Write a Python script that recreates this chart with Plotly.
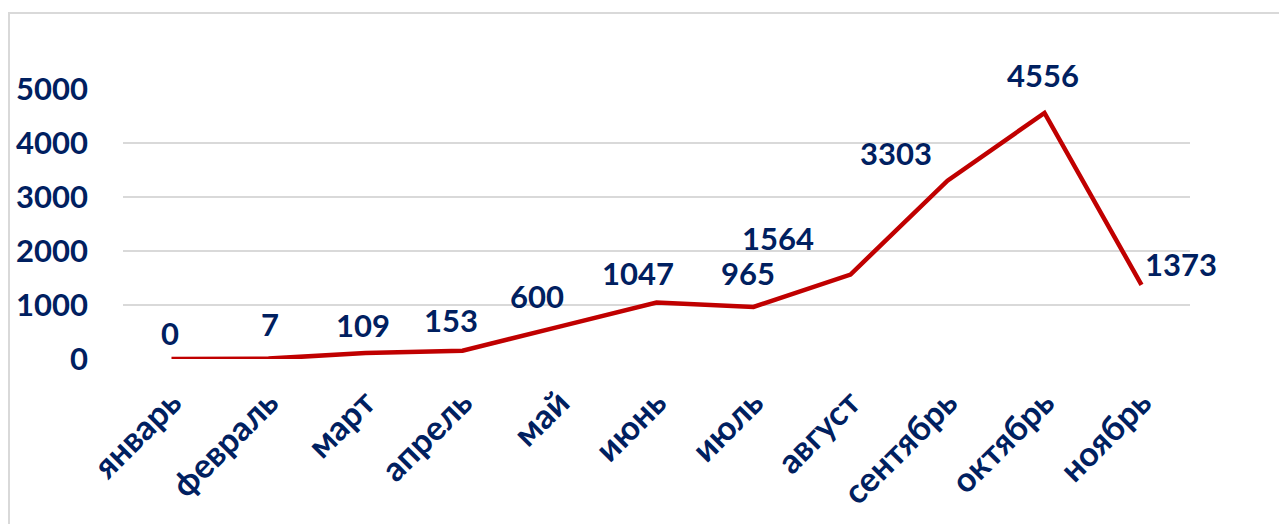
import plotly.graph_objects as go

months = ["январь", "февраль", "март", "апрель", "май", "июнь", "июль",
          "август", "сентябрь", "октябрь", "ноябрь"]
values = [0, 7, 109, 153, 600, 1047, 965, 1564, 3303, 4556, 1373]
y_ticks = [0, 1000, 2000, 3000, 4000, 5000]

# label offsets in pixels (style only)
label_dx = [-2, 1, -3, -12, -23, -19, -6, -73, -52, -2, 39]
label_dy = [26, 35, 28, 31, 31, 29, 34, 37, 28, 38, 21]

NAVY = "#002060"
FONT = "Lato"

fig = go.Figure()
fig.add_trace(go.Scatter(
    x=months, y=values, mode="lines",
    line=dict(color="#C00000", width=4.5),
    hoverinfo="x+y", showlegend=False,
))

for m, v, dx, dy in zip(months, values, label_dx, label_dy):
    fig.add_annotation(x=m, y=v, text=str(v), showarrow=False,
                       xshift=dx, yshift=dy,
                       font=dict(family=FONT, size=31, color=NAVY, weight="bold"))

L, R, T, B = 123, 89, 89, 165
W, H = 1279, 524
pw, ph = W - L - R, H - T - B

def px_x(p):
    return (p - L) / pw

def px_y(p):
    return (H - B - p) / ph

fig.add_shape(type="rect", xref="paper", yref="paper",
              x0=px_x(9), x1=px_x(1300), y0=px_y(13), y1=px_y(560),
              line=dict(color="#D9D9D9", width=2), fillcolor="rgba(0,0,0,0)",
              layer="below")

fig.update_layout(
    width=W, height=H,
    margin=dict(l=L, r=R, t=T, b=B, autoexpand=False),
    plot_bgcolor="white", paper_bgcolor="white",
    xaxis=dict(
        type="category", range=[-0.5, 10.5], automargin=False,
        showgrid=False, showline=False, zeroline=False,
        tickangle=-45, ticks="",
        ticklabelstandoff=16,
        tickfont=dict(family=FONT, size=34, color=NAVY, weight="bold"),
    ),
    yaxis=dict(
        range=[0, 5000], tickvals=y_ticks, automargin=False,
        showgrid=True, gridcolor="#D9D9D9", gridwidth=1.5,
        zeroline=False, showline=False, ticks="",
        ticklabelstandoff=34,
        tickfont=dict(family=FONT, size=31, color=NAVY, weight="bold"),
    ),
)

fig.write_html("out.html",
               config={"displayModeBar": False},
               post_script="document.body.style.margin='0px';"
                           "document.body.style.overflow='hidden';")
